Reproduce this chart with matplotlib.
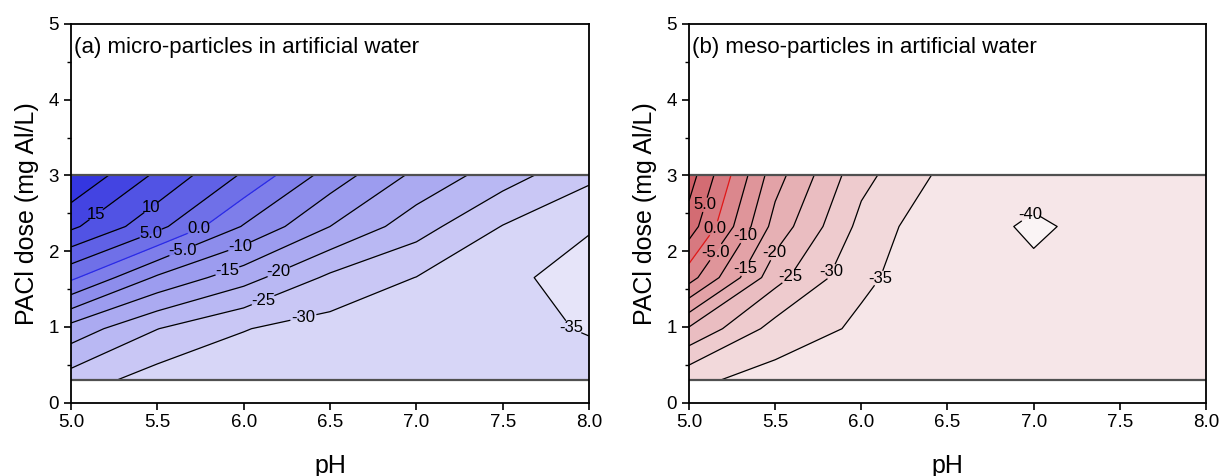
import numpy as np
import matplotlib.pyplot as plt
from matplotlib.colors import LinearSegmentedColormap

plt.rcParams['font.family'] = ['Liberation Sans', 'DejaVu Sans']

# grid of the measurements
ph = [5.0, 5.5, 6.0, 6.5, 7.0, 7.5, 8.0]
dose = [0.3, 0.975, 1.65, 2.325, 3.0]

# zeta potential (mV), one row per dose, one column per pH
zeta_micro = [
    [-27.3, -32.3, -33.0, -33.5, -34.0, -33.0, -32.0],
    [-17.0, -24.9, -29.8, -32.0, -34.0, -33.0, -35.5],
    [1.0, -10.8, -18.0, -26.0, -30.1, -32.7, -39.0],
    [16.0, 6.5, -5.4, -15.0, -22.8, -30.2, -34.2],
    [24.6, 14.0, 4.3, -7.2, -16.2, -22.7, -29.0],
]
zeta_meso = [
    [-33.8, -37.0, -37.5, -38.0, -38.0, -38.5, -38.0],
    [-20.6, -31.9, -35.9, -37.5, -38.5, -39.0, -38.5],
    [-2.9, -23.2, -34.1, -38.2, -39.8, -39.0, -38.5],
    [7.7, -16.9, -31.5, -39.5, -40.15, -39.6, -38.5],
    [12.3, -13.0, -28.5, -36.5, -39.6, -38.0, -38.0],
]

levels_micro = np.arange(-40, 30, 5)
levels_meso = np.arange(-45, 20, 5)

# where the contour labels sit (pH, dose)
labels_micro = [(5.16, 2.47), (5.47, 2.57), (5.44, 2.27), (5.74, 2.29), (5.67, 1.97),
                (5.98, 2.06), (5.92, 1.71), (6.20, 1.73), (6.12, 1.34), (6.36, 1.08),
                (7.86, 0.97)]
labels_meso = [(5.10, 2.61), (5.17, 2.29), (5.19, 1.97), (5.35, 2.19), (5.35, 1.76),
               (5.54, 1.96), (5.64, 1.64), (5.86, 1.72), (6.13, 1.63), (7.0, 2.46)]


def fmt(v):
    if abs(v) < 10:
        return f"{v:.1f}"
    return f"{v:.0f}"


def panel(ax, z, levels, c_lo, c_hi, zero_color, title, label_pos):
    X, Y = np.meshgrid(ph, dose)
    z = np.array(z)
    cmap = LinearSegmentedColormap.from_list('m', [c_lo, c_hi])
    nb = len(levels) - 1
    fill_colors = [cmap(i / (nb - 1)) for i in range(nb)]
    ax.contourf(X, Y, z, levels=levels, colors=fill_colors)
    line_levels = levels[1:-1]
    line_colors = [zero_color if lv == 0 else 'black' for lv in line_levels]
    cs = ax.contour(X, Y, z, levels=line_levels, colors=line_colors, linewidths=0.9)
    texts = ax.clabel(cs, fmt=fmt, fontsize=12, manual=label_pos, inline=True,
                      inline_spacing=2, colors='black')
    for t in texts:
        t.set_rotation(0)

    # edges of the measured region
    ax.axhline(dose[0], color='#505050', lw=1.6)
    ax.axhline(dose[-1], color='#505050', lw=1.6)

    ax.set_xlim(5.0, 8.0)
    ax.set_ylim(0, 5)
    ax.set_xticks(np.arange(5.0, 8.01, 0.5))
    ax.set_xticklabels([f"{t:.1f}" for t in np.arange(5.0, 8.01, 0.5)])
    ax.set_yticks(range(6))
    ax.set_yticks(np.arange(0.5, 5, 1.0), minor=True)
    ax.tick_params(direction='out', length=5, width=1.2, labelsize=13.5)
    ax.tick_params(which='minor', direction='out', length=3, width=1.0)
    for s in ax.spines.values():
        s.set_linewidth(1.3)
    ax.set_xlabel('pH', fontsize=18, labelpad=16)
    ax.set_ylabel('PACl dose (mg Al/L)', fontsize=18, labelpad=7)
    ax.text(0.006, 0.937, title, transform=ax.transAxes, fontsize=16, va='center')


fig = plt.figure(figsize=(12.23, 4.76), dpi=100)
ax1 = fig.add_axes([71 / 1223, 73.5 / 476, 518 / 1223, 378.5 / 476])
ax2 = fig.add_axes([689 / 1223, 73.5 / 476, 517 / 1223, 378.5 / 476])

panel(ax1, zeta_micro, levels_micro, '#e6e4f9', '#3436e0', '#2a2ae6',
      '(a) micro-particles in artificial water', labels_micro)
panel(ax2, zeta_meso, levels_meso, '#faf4f5', '#cf5e66', '#e01818',
      '(b) meso-particles in artificial water', labels_meso)

fig.savefig('out.png', dpi=100)
